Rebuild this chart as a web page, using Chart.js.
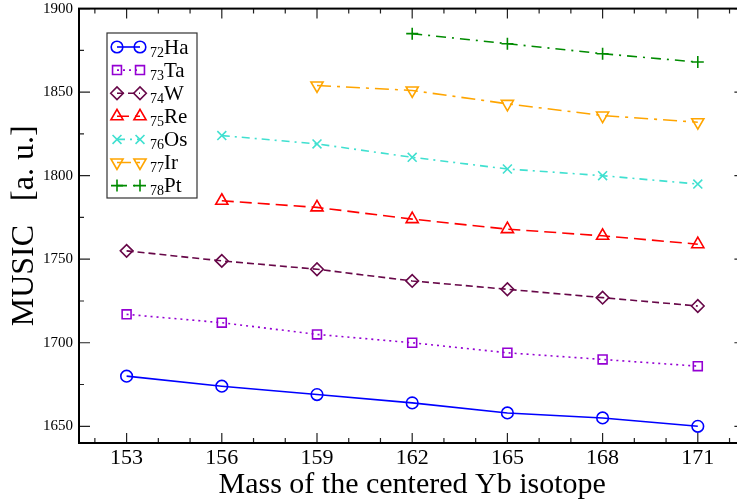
<!DOCTYPE html>
<html>
<head>
<meta charset="utf-8">
<script src="https://cdnjs.cloudflare.com/ajax/libs/Chart.js/4.4.1/chart.umd.min.js"></script>
<style>
  html,body{margin:0;padding:0;background:#fff;overflow:hidden;}
  #wrap{width:737px;height:503px;overflow:hidden;position:relative;}
  canvas{display:block;}
</style>
</head>
<body>
<!-- canvas is a little wider than the window: the frame's right edge falls just outside, as in the original -->
<div id="wrap"><canvas id="chart" width="754" height="503" style="width:754px;height:503px"></canvas></div>
<script>
// Mass of the centred Yb isotope (x) and MUSIC value (a.u.) per element
const MASSES = [153, 156, 159, 162, 165, 168, 171];
const X_TICKS = [153, 156, 159, 162, 165, 168, 171];
const Y_TICKS = [1650, 1700, 1750, 1800, 1850, 1900];

const HA = [1680, 1674, 1669, 1664, 1658, 1655, 1650];
const TA = [1717, 1712, 1705, 1700, 1694, 1690, 1686];
const W  = [1755, 1749, 1744, 1737, 1732, 1727, 1722];
const RE = [null, 1785, 1781, 1774, 1768, 1764, 1759];
const OS = [null, 1824, 1819, 1811, 1804, 1800, 1795];
const IR = [null, null, 1854, 1851, 1843, 1836, 1832];
const PT = [null, null, null, 1885, 1879, 1873, 1868];

// z subscript + symbol for legend
const SERIES = [
  {z:'72', sym:'Ha', data:HA, color:'#0000ff', style:'circle',   r:5.8, rot:0,   dash:[]},
  {z:'73', sym:'Ta', data:TA, color:'#9400d3', style:'rect',     r:6.3, rot:0,   dash:[2,4]},
  {z:'74', sym:'W',  data:W,  color:'#670748', style:'rectRot',  r:6.3, rot:0,   dash:[7,4]},
  {z:'75', sym:'Re', data:RE, color:'#ff0000', style:'triangle', r:7,   rot:0,   dash:[12,6]},
  {z:'76', sym:'Os', data:OS, color:'#40e0d0', style:'crossRot', r:6.3, rot:0,   dash:[8,5,2,5]},
  {z:'77', sym:'Ir', data:IR, color:'#ffa500', style:'triangle', r:7,   rot:180, dash:[14,6,3,6]},
  {z:'78', sym:'Pt', data:PT, color:'#008b00', style:'cross',    r:6,   rot:0,   dash:[10,6,2,6]},
];

const FONT = 'Liberation Serif';

function toPoints(vals){
  return MASSES.map((m,i)=> vals[i]==null ? null : {x:m, y:vals[i]}).filter(p=>p);
}

// --- frame with inward major/minor ticks on all four sides -----------------
const framePlugin = {
  id:'frame',
  afterDatasetsDraw(chart){
    const {ctx, chartArea:a, scales:{x, y}} = chart;
    ctx.save();
    ctx.strokeStyle = '#222'; ctx.lineWidth = 1.2; ctx.setLineDash([]);
    ctx.beginPath();
    for(let v=152; v<=172; v++){
      const px = x.getPixelForValue(v), len = (v%3===0) ? 10 : 5;
      ctx.moveTo(px, a.bottom); ctx.lineTo(px, a.bottom-len);
      ctx.moveTo(px, a.top);    ctx.lineTo(px, a.top+len);
    }
    for(let v=1650; v<=1900; v+=25){
      const py = y.getPixelForValue(v), len = (v%50===0) ? 11 : 5;
      ctx.moveTo(a.left, py);  ctx.lineTo(a.left+len, py);
      ctx.moveTo(a.right, py); ctx.lineTo(a.right-len, py);
    }
    ctx.stroke();
    ctx.strokeStyle = '#000'; ctx.lineWidth = 2;
    ctx.strokeRect(a.left, a.top, a.right-a.left, a.bottom-a.top);
    ctx.restore();
  }
};

// --- legend box with subscripted atomic numbers ---------------------------
const legendPlugin = {
  id:'legendBox',
  afterDatasetsDraw(chart){
    const ctx = chart.ctx;
    const bx = 107, by = 33, bw = 90, bh = 165, row = 23.1, y0 = 47;
    ctx.save();
    ctx.fillStyle = '#fff'; ctx.fillRect(bx, by, bw, bh);
    ctx.strokeStyle = '#333'; ctx.lineWidth = 1.2; ctx.strokeRect(bx, by, bw, bh);
    SERIES.forEach((s,i)=>{
      const cy = y0 + i*row, x1 = 117, x2 = 140;
      ctx.strokeStyle = s.color; ctx.lineWidth = 1.6; ctx.setLineDash(s.dash);
      ctx.beginPath(); ctx.moveTo(x1, cy); ctx.lineTo(x2, cy); ctx.stroke();
      ctx.setLineDash([]);
      ctx.fillStyle = 'rgba(0,0,0,0)';
      const opt = {pointStyle:s.style, radius:s.r, rotation:s.rot, borderWidth:1.6};
      Chart.helpers.drawPoint(ctx, opt, x1, cy);
      Chart.helpers.drawPoint(ctx, opt, x2, cy);
      ctx.fillStyle = '#000'; ctx.textBaseline = 'alphabetic'; ctx.textAlign = 'left';
      ctx.font = `14px "${FONT}"`;
      ctx.fillText(s.z, 150, cy+9.5);
      const zw = ctx.measureText(s.z).width;
      ctx.font = `21px "${FONT}"`;
      ctx.fillText(s.sym, 150+zw, cy+6.5);
    });
    ctx.restore();
  }
};

const datasets = SERIES.map(s=>({
  label:s.sym, data:toPoints(s.data),
  borderColor:s.color, backgroundColor:'rgba(0,0,0,0)',
  borderWidth:1.6, borderDash:s.dash, tension:0,
  pointStyle:s.style, pointRadius:s.r, pointRotation:s.rot,
  pointBorderColor:s.color, pointBackgroundColor:'rgba(0,0,0,0)', pointBorderWidth:1.6,
}));

new Chart(document.getElementById('chart'), {
  type:'line',
  data:{datasets},
  options:{
    responsive:false, devicePixelRatio:1, animation:false,
    layout:{padding:{top:5, right:1, left:0, bottom:0}},
    plugins:{legend:{display:false}, tooltip:{enabled:false}},
    scales:{
      x:{
        type:'linear', min:151.5, max:172.5,
        grid:{display:false, drawTicks:false}, border:{display:false},
        afterBuildTicks:s=>{ s.ticks = X_TICKS.map(v=>({value:v})); },
        afterFit:s=>{ s.height = 60; s.paddingLeft = 0; s.paddingRight = 0; },
        ticks:{color:'#000', font:{family:FONT, size:22}, padding:2, maxRotation:0, autoSkip:false,
               callback:v=>String(v)},
        title:{display:true, text:'Mass of the centered Yb isotope', color:'#000',
               font:{family:FONT, size:30}, padding:{top:0, bottom:0}},
      },
      y:{
        min:1640, max:1900,
        grid:{display:false, drawTicks:false}, border:{display:false},
        afterBuildTicks:s=>{ s.ticks = Y_TICKS.map(v=>({value:v})); },
        afterFit:s=>{ s.width = 79; s.paddingTop = 0; s.paddingBottom = 0; },
        ticks:{color:'#000', font:{family:FONT, size:15}, padding:6, autoSkip:false,
               callback:v=>String(v)},
        title:{display:true, text:'MUSIC   [a. u.]', color:'#000',
               font:{family:FONT, size:32}, padding:{top:5, bottom:0}},
      },
    },
  },
  plugins:[framePlugin, legendPlugin],
});
</script>
</body>
</html>
